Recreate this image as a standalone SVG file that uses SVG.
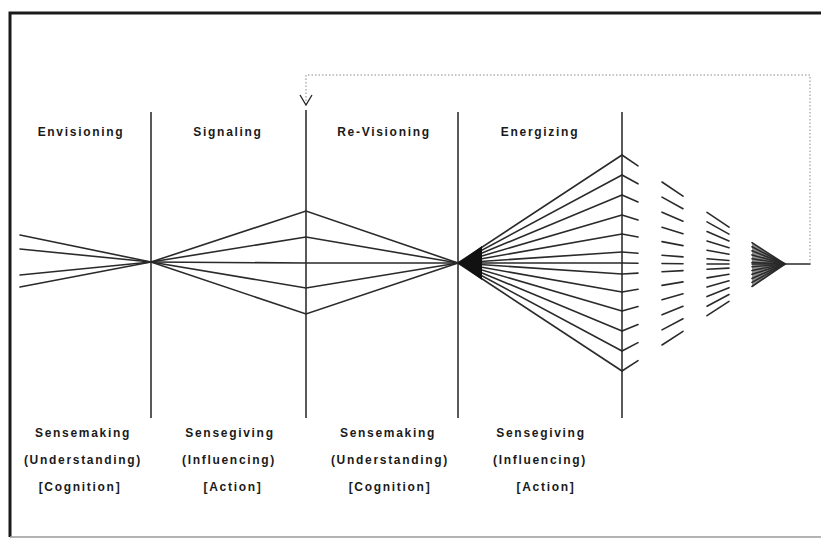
<svg xmlns="http://www.w3.org/2000/svg" width="821" height="539" viewBox="0 0 821 539">
<style>
.bg{fill:#fff}
.frame{stroke:#1a1a1a;stroke-width:3;fill:none}
.bottom{stroke:#9a9a9a;stroke-width:1.5}
.div{stroke:#222;stroke-width:1.5}
.ln{stroke:#2a2a2a;stroke-width:1.6;stroke-linecap:round}
.dot{stroke:#8a8a8a;stroke-width:1;stroke-dasharray:1.5 2;fill:none}
.lbl{font-family:"Liberation Sans",Arial,sans-serif;font-size:12px;font-weight:bold;fill:#1a1a1a;text-anchor:middle;letter-spacing:1.7px}
</style>
<rect class="bg" x="0" y="0" width="821" height="539"/>
<g id="frame">
<path class="frame" d="M10,537 V13 H821"/>
<line class="bottom" x1="10" y1="537" x2="821" y2="537"/>
</g>
<g id="dividers">
<line class="div" x1="151" y1="112" x2="151" y2="418"/>
<line class="div" x1="306" y1="110" x2="306" y2="418"/>
<line class="div" x1="458" y1="112" x2="458" y2="418"/>
<line class="div" x1="622" y1="112" x2="622" y2="418"/>
</g>
<g id="labels">
<text class="lbl" x="81" y="136">Envisioning</text>
<text class="lbl" x="228" y="136">Signaling</text>
<text class="lbl" x="384" y="136">Re-Visioning</text>
<text class="lbl" x="540" y="136">Energizing</text>
<text class="lbl" x="83" y="437">Sensemaking</text>
<text class="lbl" x="83" y="464">(Understanding)</text>
<text class="lbl" x="80" y="491">[Cognition]</text>
<text class="lbl" x="230" y="437">Sensegiving</text>
<text class="lbl" x="229" y="464">(Influencing)</text>
<text class="lbl" x="233" y="491">[Action]</text>
<text class="lbl" x="388" y="437">Sensemaking</text>
<text class="lbl" x="390" y="464">(Understanding)</text>
<text class="lbl" x="390" y="491">[Cognition]</text>
<text class="lbl" x="541" y="437">Sensegiving</text>
<text class="lbl" x="540" y="464">(Influencing)</text>
<text class="lbl" x="546" y="491">[Action]</text>
</g>
<g id="connectors">
<!-- Envisioning -->
<line class="ln" x1="20" y1="235" x2="151" y2="262"/>
<line class="ln" x1="20" y1="249" x2="151" y2="262"/>
<line class="ln" x1="20" y1="275" x2="151" y2="262"/>
<line class="ln" x1="20" y1="287" x2="151" y2="262"/>
<!-- Signaling / Re-Visioning diamond -->
<polyline class="ln" fill="none" points="151,262 306,211 458,263"/>
<polyline class="ln" fill="none" points="151,262 306,237 458,263"/>
<polyline class="ln" fill="none" points="151,262 306,263 458,263"/>
<polyline class="ln" fill="none" points="151,262 306,288 458,263"/>
<polyline class="ln" fill="none" points="151,262 306,314 458,263"/>
<!-- Energizing fan -->
<line class="ln" x1="458" y1="263" x2="622" y2="155"/>
<line class="ln" x1="458" y1="263" x2="622" y2="175"/>
<line class="ln" x1="458" y1="263" x2="622" y2="195"/>
<line class="ln" x1="458" y1="263" x2="622" y2="215"/>
<line class="ln" x1="458" y1="263" x2="622" y2="234"/>
<line class="ln" x1="458" y1="263" x2="622" y2="252"/>
<line class="ln" x1="458" y1="263" x2="622" y2="263"/>
<line class="ln" x1="458" y1="263" x2="622" y2="274"/>
<line class="ln" x1="458" y1="263" x2="622" y2="292"/>
<line class="ln" x1="458" y1="263" x2="622" y2="311"/>
<line class="ln" x1="458" y1="263" x2="622" y2="331"/>
<line class="ln" x1="458" y1="263" x2="622" y2="351"/>
<line class="ln" x1="458" y1="263" x2="622" y2="371"/>
<polygon points="458,263 482,246 482,280" fill="#111"/>
<!-- Converging dashed segments -->
<polygon points="752,243 785,264 752,287" fill="#333" opacity="0.55"/>
<g class="ln">
<line x1="622" y1="155" x2="638" y2="165.8"/><line x1="662" y1="182" x2="683" y2="196.2"/><line x1="707" y1="212.4" x2="729" y2="227.2"/><line x1="752" y1="242.7" x2="785" y2="264"/>
<line x1="622" y1="175" x2="638" y2="183.8"/><line x1="662" y1="197.1" x2="683" y2="208.7"/><line x1="707" y1="221.9" x2="729" y2="234.1"/><line x1="752" y1="246.8" x2="785" y2="264"/>
<line x1="622" y1="195" x2="638" y2="201.9"/><line x1="662" y1="212.2" x2="683" y2="221.2"/><line x1="707" y1="231.5" x2="729" y2="241"/><line x1="752" y1="250.8" x2="785" y2="264"/>
<line x1="622" y1="215" x2="638" y2="219.9"/><line x1="662" y1="227.3" x2="683" y2="233.7"/><line x1="707" y1="241.1" x2="729" y2="247.8"/><line x1="752" y1="254.9" x2="785" y2="264"/>
<line x1="622" y1="234" x2="638" y2="237"/><line x1="662" y1="241.6" x2="683" y2="245.6"/><line x1="707" y1="250.2" x2="729" y2="254.3"/><line x1="752" y1="258.7" x2="785" y2="264"/>
<line x1="622" y1="252" x2="638" y2="253.3"/><line x1="662" y1="255.2" x2="683" y2="256.9"/><line x1="707" y1="258.8" x2="729" y2="260.5"/><line x1="752" y1="262.4" x2="785" y2="264"/>
<line x1="622" y1="263" x2="638" y2="263.2"/><line x1="662" y1="263.5" x2="683" y2="263.7"/><line x1="707" y1="264" x2="729" y2="264"/><line x1="752" y1="264" x2="785" y2="264"/>
<line x1="622" y1="274" x2="638" y2="273.1"/><line x1="662" y1="271.8" x2="683" y2="270.6"/><line x1="707" y1="269.3" x2="729" y2="268.1"/><line x1="752" y1="266.8" x2="785" y2="264"/>
<line x1="622" y1="292" x2="638" y2="289.3"/><line x1="662" y1="285.4" x2="683" y2="281.9"/><line x1="707" y1="277.9" x2="729" y2="274.3"/><line x1="752" y1="270.5" x2="785" y2="264"/>
<line x1="622" y1="311" x2="638" y2="306.5"/><line x1="662" y1="299.7" x2="683" y2="293.8"/><line x1="707" y1="287" x2="729" y2="280.8"/><line x1="752" y1="274.3" x2="785" y2="264"/>
<line x1="622" y1="331" x2="638" y2="324.5"/><line x1="662" y1="314.8" x2="683" y2="306.3"/><line x1="707" y1="296.6" x2="729" y2="287.7"/><line x1="752" y1="278.4" x2="785" y2="264"/>
<line x1="622" y1="351" x2="638" y2="342.6"/><line x1="662" y1="329.9" x2="683" y2="318.8"/><line x1="707" y1="306.2" x2="729" y2="294.5"/><line x1="752" y1="282.4" x2="785" y2="264"/>
<line x1="622" y1="371" x2="638" y2="360.6"/><line x1="662" y1="345" x2="683" y2="331.3"/><line x1="707" y1="315.7" x2="729" y2="301.4"/><line x1="752" y1="286.5" x2="785" y2="264"/>
<line x1="785" y1="264" x2="810" y2="264"/>
</g>
<!-- Feedback loop -->
<path class="dot" d="M810,264 V75 H306 V104"/>
<polyline fill="none" stroke="#222" stroke-width="1.3" points="300,95 306,105 312,95"/>
</g>
</svg>
